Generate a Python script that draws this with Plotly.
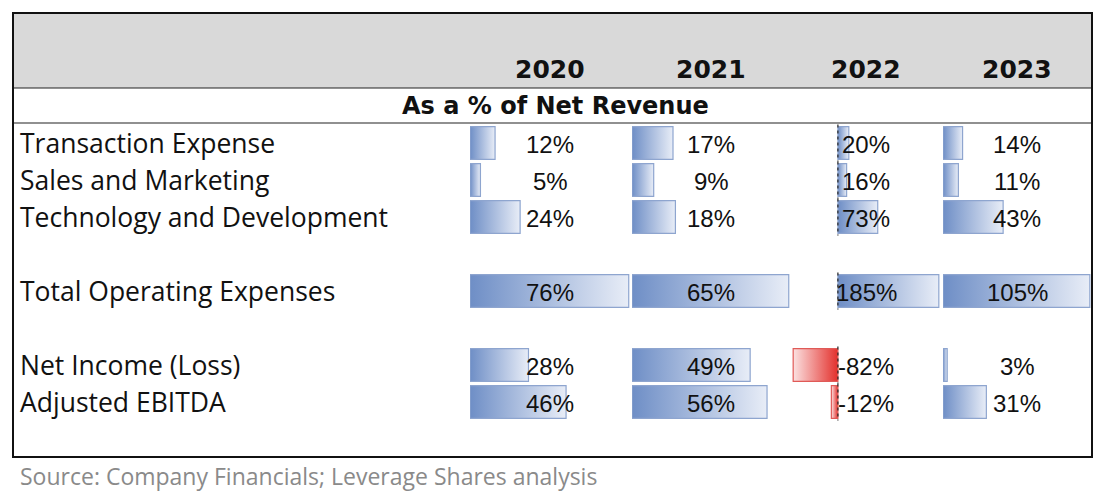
import plotly.graph_objects as go

W, H = 1104, 496

years = ['2020', '2021', '2022', '2023']
row_labels = ['Transaction Expense', 'Sales and Marketing', 'Technology and Development',
              '', 'Total Operating Expenses', '', 'Net Income (Loss)', 'Adjusted EBITDA']

# % of net revenue, per row, per year (None = blank spacer row)
pct_2020 = [12, 5, 24, None, 76, None, 28, 46]
pct_2021 = [17, 9, 18, None, 65, None, 49, 56]
pct_2022 = [20, 16, 73, None, 185, None, -82, -12]
pct_2023 = [14, 11, 43, None, 105, None, 3, 31]
columns = [pct_2020, pct_2021, pct_2022, pct_2023]

section_title = 'As a % of Net Revenue'
source = 'Source: Company Financials; Leverage Shares analysis'

# pixel layout of the sheet
ROW0, ROW_H = 143, 37          # centre of first data row, row height
col_px = [(470, 630), (632, 790), (792, 940), (943, 1091)]
BAR_H = 0.44                    # half bar height in rows

BLUE = [[0, '#6e8ec6'], [1, '#e8edf7']]
RED = [[0, '#fbe1e1'], [1, '#e3302c']]


def py(px):
    return 1 - px / H


def row_of(px):
    return (px - ROW0) / ROW_H


fig = go.Figure()
ann = []

for k, vals in enumerate(columns):
    ax = '' if k == 0 else str(k + 1)
    xa, ya = 'x' + ax, 'y'
    lo = min(0, min(v for v in vals if v is not None))
    hi = max(v for v in vals if v is not None)
    pad = (hi - lo) * 0.008
    rng = [lo - pad if lo < 0 else 0, hi + pad]
    fig.update_layout({
        'xaxis' + ax: dict(domain=[col_px[k][0] / W, col_px[k][1] / W], range=rng,
                           visible=False, fixedrange=True, anchor='y')
    })
    for i, v in enumerate(vals):
        if v is None:
            continue
        neg = v < 0
        fig.add_trace(go.Scatter(
            x=[0, v, v, 0, 0], y=[i - BAR_H, i - BAR_H, i + BAR_H, i + BAR_H, i - BAR_H],
            xaxis=xa, yaxis=ya, mode='lines', fill='toself',
            line=dict(color='#e05a57' if neg else '#8ea5cf', width=1.2),
            fillgradient=dict(type='horizontal', colorscale=RED if neg else BLUE),
            hoverinfo='skip', showlegend=False))
        if lo < 0:
            fig.add_trace(go.Scatter(
                x=[0, 0], y=[i - 0.5, i + 0.5], xaxis=xa, yaxis=ya, mode='lines',
                line=dict(color='#222', width=1.2, dash='dot'),
                hoverinfo='skip', showlegend=False))
        ann.append(dict(xref=xa, yref=ya, x=(rng[0] + rng[1]) / 2, y=i, text=f'{v}%',
                        showarrow=False, xanchor='center', yanchor='middle', yshift=-1,
                        font=dict(family='Liberation Sans', size=24, color='#111')))

fig.update_layout(
    width=W, height=H, margin=dict(l=0, r=0, t=0, b=0),
    paper_bgcolor='white', plot_bgcolor='rgba(0,0,0,0)',
    yaxis=dict(domain=[0, 1], range=[row_of(H), row_of(0)], visible=False, fixedrange=True),
    showlegend=False,
)

# sheet decoration
shapes = [
    dict(type='rect', xref='paper', yref='paper', x0=13 / W, x1=1092 / W, y0=py(13), y1=py(88),
         fillcolor='#d9d9d9', line=dict(width=0), layer='below'),
    dict(type='line', xref='paper', yref='paper', x0=13 / W, x1=1092 / W, y0=py(88), y1=py(88),
         line=dict(color='#222', width=1.2)),
    dict(type='line', xref='paper', yref='paper', x0=13 / W, x1=1092 / W, y0=py(123), y1=py(123),
         line=dict(color='#222', width=1.2)),
    dict(type='rect', xref='paper', yref='paper', x0=13 / W, x1=1092 / W, y0=py(13), y1=py(457),
         line=dict(color='#111', width=2)),
]

for k, yr in enumerate(years):
    ann.append(dict(xref='paper', yref='paper', x=(col_px[k][0] + col_px[k][1]) / 2 / W, y=py(69),
                    text=f'<b>{yr}</b>', showarrow=False, xanchor='center', yanchor='middle',
                    font=dict(family='DejaVu Sans', size=25, color='#111')))
ann.append(dict(xref='paper', yref='paper', x=555 / W, y=py(106), text=f'<b>{section_title}</b>',
                showarrow=False, xanchor='center', yanchor='middle',
                font=dict(family='DejaVu Sans', size=24, color='#111')))
for i, lab in enumerate(row_labels):
    if lab:
        ann.append(dict(xref='paper', yref='y', x=18 / W, y=i, text=lab, showarrow=False,
                        xanchor='left', yanchor='middle',
                        font=dict(family='Open Sans', size=26.5, color='#111')))
ann.append(dict(xref='paper', yref='paper', x=18 / W, y=py(476), text=source, showarrow=False,
                xanchor='left', yanchor='middle', font=dict(family='Open Sans', size=23, color='#8a8a8a')))

fig.update_layout(shapes=shapes, annotations=ann)
fig.write_html('out.html', config={'displayModeBar': False},
               post_script="document.body.style.margin='0';document.body.style.overflow='hidden';")
